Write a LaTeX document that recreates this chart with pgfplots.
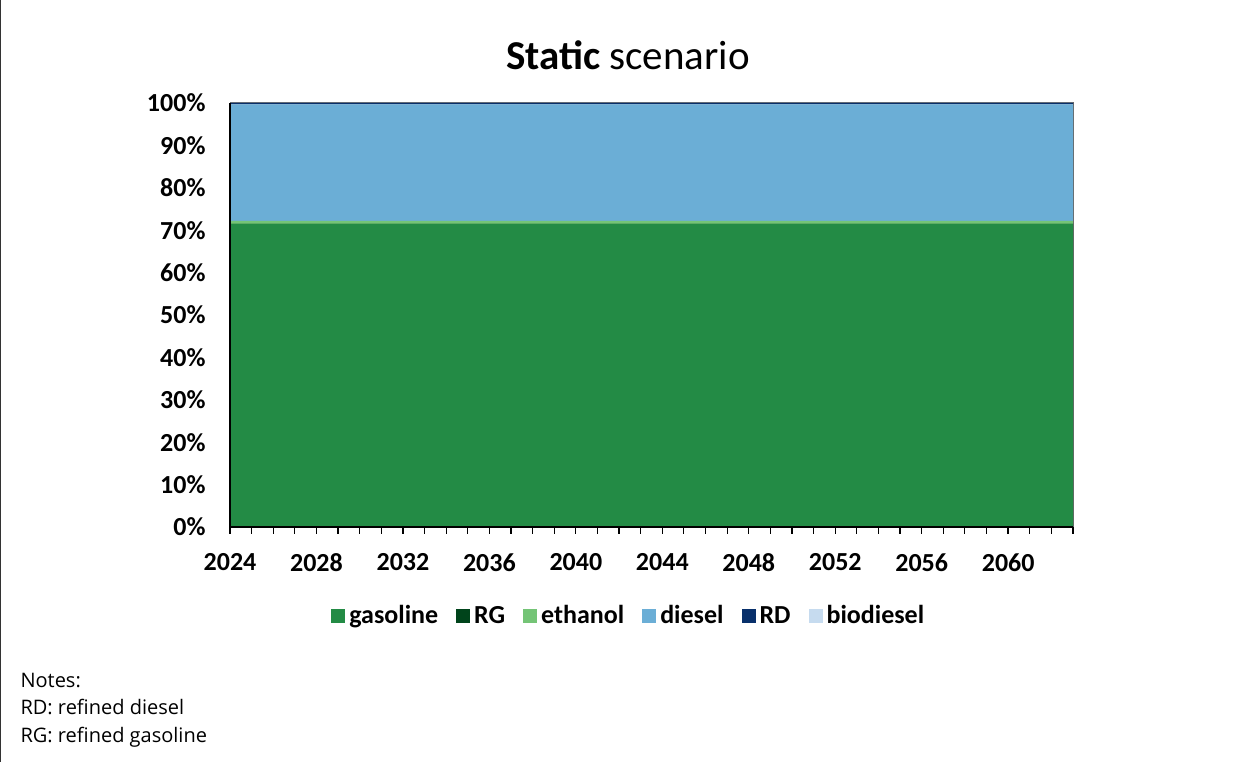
\documentclass[border=0pt]{standalone}
\usepackage{pgfplots}
\pgfplotsset{compat=1.18}
\usepackage{pgfplotstable}
\usepackage{fontspec}
\setmainfont{Carlito}
\newfontfamily\notesfont{Open Sans}

\definecolor{cgas}{RGB}{35,139,69}
\definecolor{crg}{RGB}{0,68,27}
\definecolor{ceth}{RGB}{116,196,118}
\definecolor{cdsl}{RGB}{107,174,214}
\definecolor{crd}{RGB}{8,48,107}
\definecolor{cbio}{RGB}{198,219,239}

% shares of fuel use, percent
\pgfplotstableread{
year gas rg eth dsl rd bio
2024 71.5 0 0.7 27.5 0.3 0
2025 71.5 0 0.7 27.5 0.3 0
2026 71.5 0 0.7 27.5 0.3 0
2027 71.5 0 0.7 27.5 0.3 0
2028 71.5 0 0.7 27.5 0.3 0
2029 71.5 0 0.7 27.5 0.3 0
2030 71.5 0 0.7 27.5 0.3 0
2031 71.5 0 0.7 27.5 0.3 0
2032 71.5 0 0.7 27.5 0.3 0
2033 71.5 0 0.7 27.5 0.3 0
2034 71.5 0 0.7 27.5 0.3 0
2035 71.5 0 0.7 27.5 0.3 0
2036 71.5 0 0.7 27.5 0.3 0
2037 71.5 0 0.7 27.5 0.3 0
2038 71.5 0 0.7 27.5 0.3 0
2039 71.5 0 0.7 27.5 0.3 0
2040 71.5 0 0.7 27.5 0.3 0
2041 71.5 0 0.7 27.5 0.3 0
2042 71.5 0 0.7 27.5 0.3 0
2043 71.5 0 0.7 27.5 0.3 0
2044 71.5 0 0.7 27.5 0.3 0
2045 71.5 0 0.7 27.5 0.3 0
2046 71.5 0 0.7 27.5 0.3 0
2047 71.5 0 0.7 27.5 0.3 0
2048 71.5 0 0.7 27.5 0.3 0
2049 71.5 0 0.7 27.5 0.3 0
2050 71.5 0 0.7 27.5 0.3 0
2051 71.5 0 0.7 27.5 0.3 0
2052 71.5 0 0.7 27.5 0.3 0
2053 71.5 0 0.7 27.5 0.3 0
2054 71.5 0 0.7 27.5 0.3 0
2055 71.5 0 0.7 27.5 0.3 0
2056 71.5 0 0.7 27.5 0.3 0
2057 71.5 0 0.7 27.5 0.3 0
2058 71.5 0 0.7 27.5 0.3 0
2059 71.5 0 0.7 27.5 0.3 0
2060 71.5 0 0.7 27.5 0.3 0
2061 71.5 0 0.7 27.5 0.3 0
2062 71.5 0 0.7 27.5 0.3 0
2063 71.5 0 0.7 27.5 0.3 0
}\shares

\begin{document}
\begin{tikzpicture}[x=1pt,y=1pt]
\useasboundingbox (0,0) rectangle (1252,762);
\draw[black!80, line width=1.2pt] (0.6,0) -- (0.6,762);
\begin{axis}[
  at={(230pt,235pt)}, anchor=south west,
  scale only axis, width=843pt, height=424pt,
  xmin=2024, xmax=2063, ymin=0, ymax=100,
  stack plots=y, area style,
  axis x line*=bottom, axis y line*=left,
  axis line style={black, line width=1.6pt},
  xtick={2024,2028,...,2060},
  minor xtick={2024,...,2063},
  x tick label style={/pgf/number format/1000 sep={}},
  xtick pos=bottom, tick align=outside,
  major tick length=7pt, minor tick length=7pt,
  every tick/.style={black, line width=1.2pt},
  ytick={0,10,...,100},
  major y tick style={draw=none},
  yticklabel={\pgfmathprintnumber{\tick}\%},
  tick label style={font=\fontsize{26}{28}\selectfont\bfseries},
  /pgf/number format/assume math mode=true,
  xticklabel style={yshift=-16pt},
  yticklabel style={xshift=-14pt},
  legend columns=6,
  legend style={draw=none, fill=none, at={(0.473,-0.215)}, anchor=center,
    font=\fontsize{26}{28}\selectfont\bfseries,
    nodes={text height=0.72em, text depth=0.22em},
    /tikz/every odd column/.append style={column sep=2pt},
    /tikz/every even column/.append style={column sep=16pt}},
  legend image code/.code={\fill[#1] (0pt,-1.5pt) rectangle (14pt,12.5pt);},
  clip=false,
]
\addplot[fill=cgas, draw=none] table[x=year, y=gas] {\shares} \closedcycle;
\addplot[fill=crg, draw=none] table[x=year, y=rg] {\shares} \closedcycle;
\addplot[fill=ceth, draw=none] table[x=year, y=eth] {\shares} \closedcycle;
\addplot[fill=cdsl, draw=none] table[x=year, y=dsl] {\shares} \closedcycle;
\addplot[fill=crd, draw=none] table[x=year, y=rd] {\shares} \closedcycle;
\addplot[fill=cbio, draw=none] table[x=year, y=bio] {\shares} \closedcycle;
\legend{gasoline, RG, ethanol, diesel, RD, biodiesel}
\draw[black!60, line width=1pt] (rel axis cs:0,1) -- (rel axis cs:1,1) -- (rel axis cs:1,0);
\end{axis}
\node[font=\fontsize{41}{44}\selectfont] at (628,707) {\textbf{Static} scenario};
\node[anchor=west, align=left, font=\notesfont\fontsize{20}{27.5}\selectfont] at (17,52)
  {Notes:\\RD: refined diesel\\RG: refined gasoline};
\end{tikzpicture}
\end{document}
